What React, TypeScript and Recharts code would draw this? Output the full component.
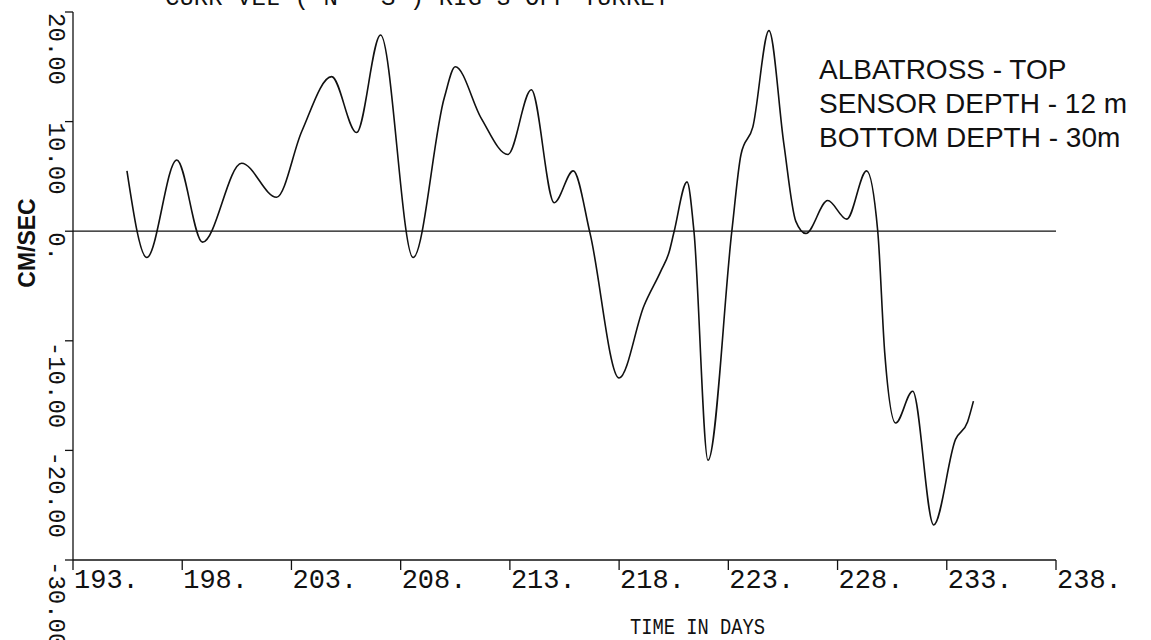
import { LineChart, Line, XAxis, YAxis, ReferenceLine } from 'recharts';

// time in days (year day) and alongshore current, cm/sec
const days = [
  195.47, 196.38, 197.75, 198.93, 200.72, 202.32, 203.47, 204.84, 205.98, 207.08,
  208.57, 210.0, 210.5, 211.69, 212.91, 213.98, 215.03, 215.9, 216.67, 218.0,
  219.14, 219.92, 220.29, 220.51, 221.11, 221.43, 222.07, 223.16, 223.58, 224.12,
  224.86, 225.54, 226.09, 226.55, 227.55, 228.42, 229.33, 229.84, 230.16, 230.66,
  231.44, 232.4, 233.4, 233.95, 234.22,
];
const speed = [
  5.5, -2.4, 6.5, -1.0, 6.2, 3.1, 9.1, 14.1, 9.0, 17.9,
  -2.4, 12.2, 15.0, 10.3, 7.0, 12.9, 2.6, 5.5, -0.2, -13.4,
  -6.8, -3.6, -1.9, -0.1, 4.5, -0.1, -20.9, 0.0, 7.0, 9.5,
  18.3, 8.0, 0.9, -0.2, 2.8, 1.1, 5.5, 0.0, -11.1, -17.5,
  -14.6, -26.8, -19.0, -17.4, -15.5,
];

const dayTicks = [193, 198, 203, 208, 213, 218, 223, 228, 233, 238];
const speedTicks = [-30, -20, -10, 0, 10, 20];

const plotTitle = 'CURR VEL  ( N - S ) RIG 3  OFF TURRET';
const legendLines = ['ALBATROSS - TOP', 'SENSOR DEPTH - 12 m', 'BOTTOM DEPTH - 30m'];

const data = days.map((d, i) => ({ day: d, speed: speed[i] }));

const INK = '#111';
const MONO = "'Liberation Mono', 'DejaVu Sans Mono', monospace";
const SANS = "'Liberation Sans', Arial, sans-serif";

function DayTick({ x, y, payload }: any) {
  return (
    <text x={x + 1} y={y + 16} fill={INK} fontFamily={MONO} fontSize={27} textAnchor="start">
      {`${payload.value}.`}
    </text>
  );
}

function SpeedTick({ x, y, payload }: any) {
  const v = payload.value as number;
  const label = v === 0 ? '0.' : v.toFixed(2);
  return (
    <text
      transform={`translate(${x - 14},${y + 1}) rotate(90)`}
      fill={INK}
      fontFamily={MONO}
      fontSize={24}
      textAnchor="start"
    >
      {label}
    </text>
  );
}

export default function App() {
  return (
    <div style={{ position: 'absolute', left: 0, top: 0, width: 1151, height: 640, background: '#fff' }}>
      <LineChart
        width={1151}
        height={640}
        data={data}
        margin={{ top: 12, right: 95, left: 0, bottom: 0 }}
      >
        <XAxis
          type="number"
          dataKey="day"
          domain={[193, 238]}
          ticks={dayTicks}
          interval={0}
          height={80}
          stroke={INK}
          strokeWidth={1.3}
          tickSize={10}
          tick={<DayTick />}
          allowDataOverflow
        />
        <YAxis
          type="number"
          domain={[-30, 20]}
          ticks={speedTicks}
          interval={0}
          width={73}
          stroke={INK}
          strokeWidth={1.3}
          tickSize={8}
          tick={<SpeedTick />}
          allowDataOverflow
        />
        <ReferenceLine y={0} stroke={INK} strokeWidth={1.3} />
        <Line
          type="monotone"
          dataKey="speed"
          stroke={INK}
          strokeWidth={1.6}
          dot={false}
          isAnimationActive={false}
        />
      </LineChart>

      <svg
        width={1151}
        height={640}
        style={{ position: 'absolute', left: 0, top: 0, pointerEvents: 'none' }}
      >
        {/* plot heading runs off the top of the sheet, only its foot shows */}
        <text x={165} y={5} fill={INK} fontFamily={MONO} fontSize={24}>
          {plotTitle}
        </text>
        <text
          transform="translate(35,243) rotate(-90)"
          textAnchor="middle"
          fill={INK}
          fontFamily={SANS}
          fontWeight="bold"
          fontSize={23}
        >
          CM/SEC
        </text>
        <text
          x={630}
          y={634}
          fill={INK}
          fontFamily={MONO}
          fontSize={22}
          textLength={135}
          lengthAdjust="spacingAndGlyphs"
        >
          TIME IN DAYS
        </text>
        {legendLines.map((line, i) => (
          <text key={line} x={819} y={79 + i * 34} fill={INK} fontFamily={SANS} fontSize={28}>
            {line}
          </text>
        ))}
      </svg>
    </div>
  );
}
